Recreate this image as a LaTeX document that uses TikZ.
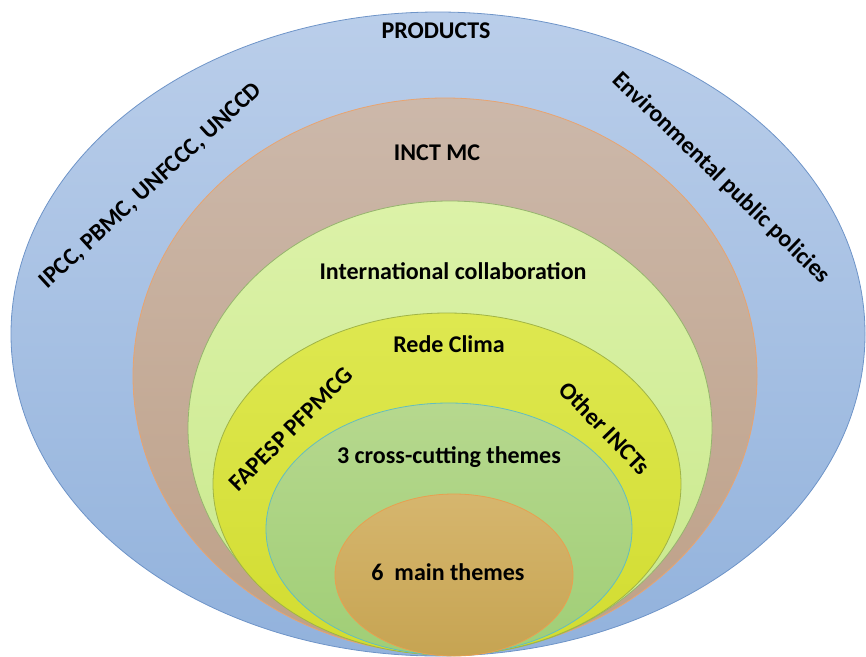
\documentclass[tikz,border=0pt]{standalone}
\usepackage{fontspec}
\setmainfont{Carlito}
\usetikzlibrary{shapes.geometric}
\begin{document}
\begin{tikzpicture}[x=1pt,y=-1pt,
  ring/.style={ellipse, inner sep=0pt, line width=0.8pt},
  lab/.style={font=\bfseries\fontsize{24}{26}\selectfont, text=black, inner sep=0pt}]
\useasboundingbox (0,0) rectangle (866,656);
% nested ellipses, all resting on the same bottom line
\node[ring, draw={rgb,255:red,110;green,148;blue,200}, top color={rgb,255:red,186;green,206;blue,234}, bottom color={rgb,255:red,146;green,178;blue,220},
  minimum width=854pt, minimum height=644pt] (products) at (438,334) {};
\node[ring, draw={rgb,255:red,232;green,164;blue,112}, top color={rgb,255:red,204;green,184;blue,170}, bottom color={rgb,255:red,190;green,160;blue,135},
  minimum width=624pt, minimum height=556pt] (inct) at (445,376) {};
\node[ring, draw={rgb,255:red,150;green,180;blue,110}, top color={rgb,255:red,220;green,242;blue,168}, bottom color={rgb,255:red,200;green,232;blue,140},
  minimum width=524pt, minimum height=454pt] (intl) at (450,428) {};
\node[ring, draw={rgb,255:red,160;green,180;blue,70}, top color={rgb,255:red,222;green,232;blue,80}, bottom color={rgb,255:red,210;green,220;blue,48},
  minimum width=468pt, minimum height=342pt] (rede) at (447,484) {};
\node[ring, draw={rgb,255:red,100;green,190;blue,190}, top color={rgb,255:red,182;green,216;blue,142}, bottom color={rgb,255:red,160;green,206;blue,118},
  minimum width=366pt, minimum height=252pt] (cross) at (449,529) {};
\node[ring, draw={rgb,255:red,232;green,160;blue,80}, top color={rgb,255:red,214;green,182;blue,110}, bottom color={rgb,255:red,198;green,164;blue,82},
  minimum width=238pt, minimum height=162pt] (main) at (454,575) {};
% labels
\node[lab] (tproducts) at (436,31) {PRODUCTS};
\node[lab] (tinct) at (437,153) {INCT MC};
\node[lab] (tintl) at (453,271) {International collaboration};
\node[lab] (trede) at (449,344) {Rede Clima};
\node[lab] (tcross) at (449,457) {3 cross-cutting themes};
\node[lab] (tmain) at (448,572) {6\ \ main themes};
\node[lab, rotate=42.5] (tipcc) at (151,186) {IPCC, PBMC, UNFCCC, UNCCD};
\node[lab, rotate=-44] (tenv) at (721,178) {Environmental public policies};
\node[lab, rotate=45] (tfap) at (291,429) {FAPESP PFPMCG};
\node[lab, rotate=-46] (tother) at (605,428) {Other INCTs};
\end{tikzpicture}
\end{document}
